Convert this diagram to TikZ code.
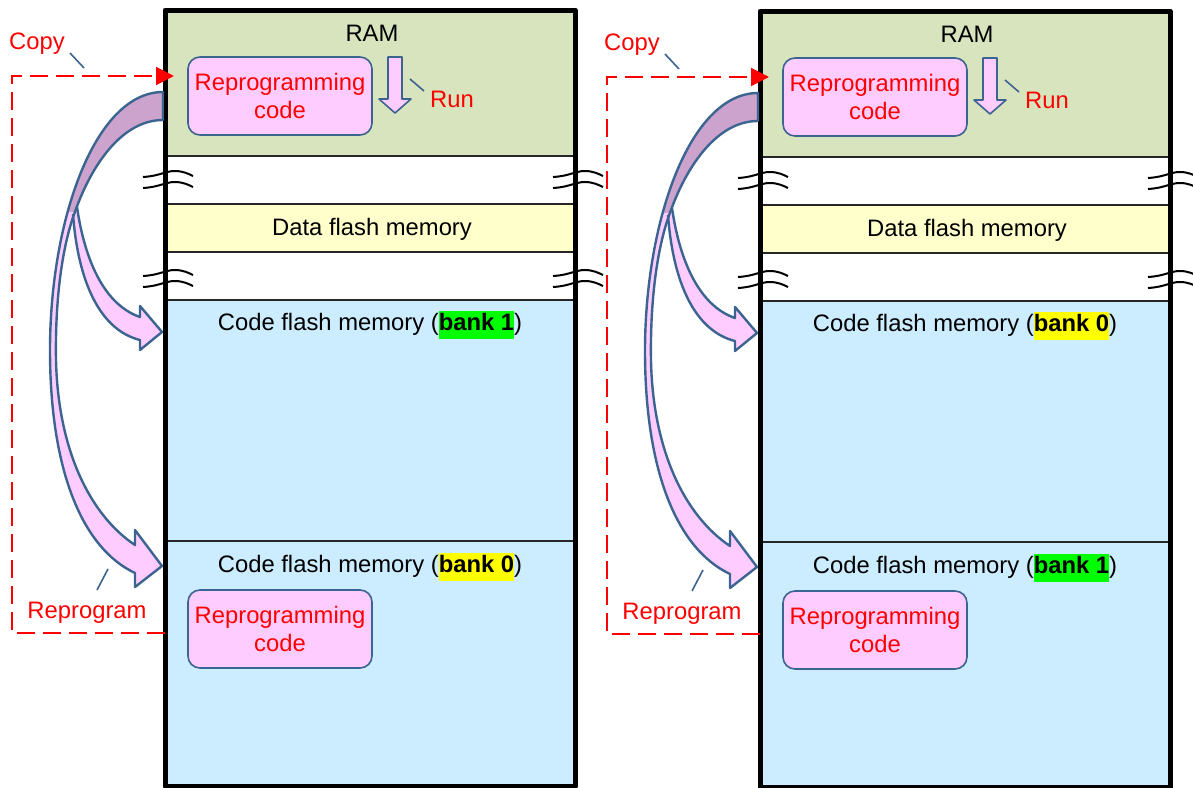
\documentclass[tikz,border=0pt]{standalone}
\usepackage{fontspec}
\setmainfont{Liberation Sans}
\usetikzlibrary{arrows.meta}
\definecolor{ramgreen}{HTML}{D7E4BD}
\definecolor{datayellow}{HTML}{FFFFCC}
\definecolor{codeblue}{HTML}{CCECFF}
\definecolor{progpink}{HTML}{FFCCFF}
\definecolor{bandpurple}{HTML}{CCA3CC}
\definecolor{edgeblue}{HTML}{3C6491}
\definecolor{bankgreen}{HTML}{00FF00}
\definecolor{bankyellow}{HTML}{FFFF00}

%1 unit is 1 pixel of the 1193x787 picture, y runs down
\def\bendA{(77,207) .. controls (85,262) and (105,305) .. (140,317) -- (140,306) -- (162,332) -- (140,350) -- (140,340) .. controls (100,330) and (78,282) .. (73,214)}
\def\bendB{(163,92) .. controls (95,92) and (50,220) .. (50,350) .. controls (50,470) and (82,548) .. (135,573) -- (135,587) -- (162,566) -- (135,530) -- (135,545) .. controls (90,515) and (58,450) .. (56,360) .. controls (55,300) and (62,245) .. (76,209) .. controls (92,165) and (122,120) .. (163,120) -- cycle}
\def\wave{(-22,-3) .. controls (-5,-4) and (0,-9) .. (10,-9) .. controls (18,-9) and (24,-6) .. (28,-4)
          (-22,8) .. controls (-5,7) and (0,2) .. (10,2) .. controls (18,2) and (24,5) .. (28,7)}

\newcommand\banklbl[2]{{\setlength{\fboxsep}{0pt}\colorbox{#1}{\strut\textbf{bank #2}}}}

\newcommand\mempanel[4]{%
  % memory map
  \fill[ramgreen] (165,10) rectangle (575,156);
  \fill[datayellow] (165,204) rectangle (575,252);
  \fill[codeblue] (165,300) rectangle (575,786);
  \draw[region line] (165,156) -- (575,156) (165,204) -- (575,204)
                     (165,252) -- (575,252) (165,300) -- (575,300)
                     (165,541) -- (575,541);
  \draw[line width=2.5pt, line join=round] (165,786) -- (165,10) -- (575,10) -- (575,786) -- cycle;
  \foreach \bx in {165,575}{
    \foreach \by in {180,279}{
      \draw[wavy, shift={(\bx,\by)}] \wave;
    }
  }
  \node[txt] (ramlbl) at (372,31) {RAM};
  \node[progbox] (ramcode) at (280,96) {Reprogramming\\code};
  \node[txt] (datalbl) at (372,227) {Data flash memory};
  \node[txt] (toplbl) at (370,323) {Code flash memory (\banklbl{#2}{#1})};
  \node[txt] (botlbl) at (370,565) {Code flash memory (\banklbl{#4}{#3})};
  \node[progbox] (bankcode) at (280,629) {Reprogramming\\code};
  % run
  \draw[bendline, fill=progpink, line width=0.8pt] (388,57) -- (402,57) -- (402,99) -- (411,99)
        -- (395,113) -- (379,99) -- (388,99) -- cycle;
  \node[redlabel] (runlbl) at (452,97) {Run};
  \coordinate (runtickA) at (410,79);
  \coordinate (runtickB) at (424,91);
  \draw[leader] (runtickA) -- (runtickB);
  % reprogram arrows
  \fill[progpink] \bendB;
  \fill[progpink] \bendA;
  \begin{scope}
    \clip (0,0) rectangle (170,211);
    \fill[bandpurple] \bendB;
  \end{scope}
  \draw[bendline] \bendB;
  \draw[bendline] \bendA;
  \node[redlabel] (proglbl) at (87,611) {Reprogram};
  \coordinate (progtickA) at (97,590);
  \coordinate (progtickB) at (108,569);
  \draw[leader] (progtickA) -- (progtickB);
  % copy
  \coordinate (copyfrom) at (165,633);
  \coordinate (copycorner) at (12,76);
  \coordinate (copyto) at (174,76);
  \draw[copyline] (copyfrom) -| (copycorner) -- (copyto);
  \node[redlabel] (copylbl) at (37,42) {Copy};
  \coordinate (copytickA) at (70,53);
  \coordinate (copytickB) at (84,68);
  \draw[leader] (copytickA) -- (copytickB);
}

\tikzset{
  txt/.style={yshift=-1pt},
  region line/.style={black!85, line width=0.6pt},
  progbox/.style={draw=edgeblue, line width=0.8pt, fill=progpink, rounded corners=6pt,
                  minimum width=92pt, minimum height=39pt, align=center, text=red, inner sep=0pt},
  redlabel/.style={text=red, inner sep=0pt, yshift=-1pt},
  leader/.style={edgeblue, line width=0.8pt},
  copyline/.style={red, line width=1pt, dash pattern=on 9pt off 4pt,
                   -{Triangle[length=9pt,width=9pt]}},
  bendline/.style={edgeblue, line width=1.2pt, line join=round},
  wavy/.style={black, line width=1pt},
}

\begin{document}
\begin{tikzpicture}[x=0.5pt, y=-0.5pt, font=\fontsize{11.9pt}{14pt}\selectfont]

\useasboundingbox (0,0) rectangle (1193,787);
\fill[white] (0,0) rectangle (1193,787);

\begin{scope}[name prefix=l-]
  \mempanel{1}{bankgreen}{0}{bankyellow}
\end{scope}

\begin{scope}[shift={(595,1)}, name prefix=r-]
  \mempanel{0}{bankyellow}{1}{bankgreen}
\end{scope}

\end{tikzpicture}
\end{document}
